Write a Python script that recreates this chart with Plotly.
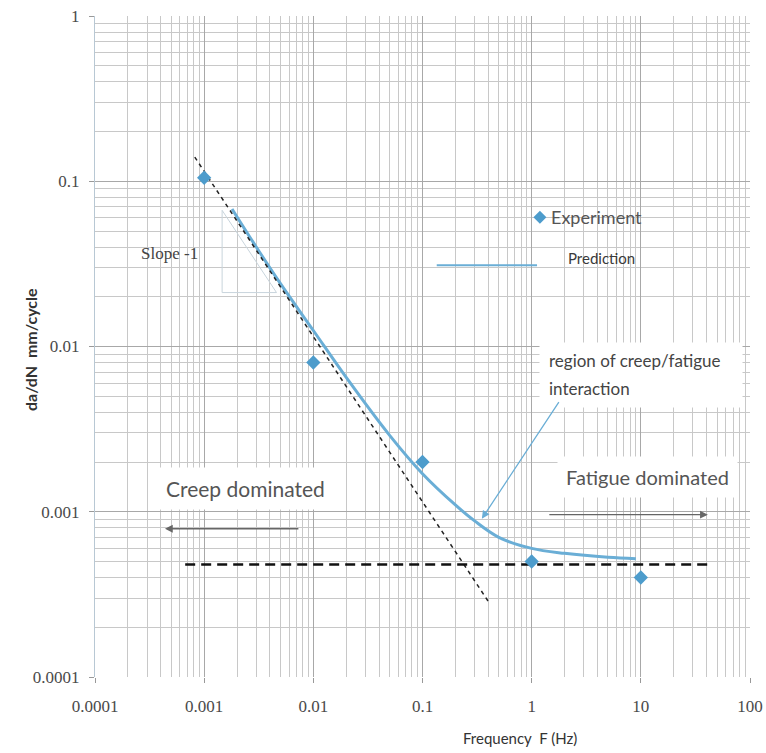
import plotly.graph_objects as go

# Data
exp_f = [0.001, 0.01, 0.1, 1, 10]
exp_dadn = [0.105, 0.008, 0.002, 0.0005, 0.0004]

pred_f = [0.0018, 0.003, 0.005, 0.01, 0.02, 0.05, 0.1, 0.2, 0.3, 0.5, 1, 2, 5, 9]
pred_dadn = [0.068, 0.040, 0.024, 0.0125, 0.0065, 0.0029, 0.0017, 0.0011, 0.00088,
             0.0007, 0.0006, 0.00056, 0.00053, 0.00052]

slope_f = [0.00082, 0.41]
slope_dadn = [0.14, 0.00028]

fatigue_f = [0.00067, 43]
fatigue_dadn = [0.00048, 0.00048]

tri_f = [0.00146, 0.00146, 0.0046]
tri_dadn = [0.0667, 0.0212, 0.0212]

x_tickvals = [0.0001, 0.001, 0.01, 0.1, 1, 10, 100]
x_ticktext = ["0.0001", "0.001", "0.01", "0.1", "1", "10", "100"]
y_tickvals = [0.0001, 0.001, 0.01, 0.1, 1]
y_ticktext = ["0.0001", "0.001", "0.01", "0.1", "1"]

BLUE = "#4d9ccc"
LBLUE = "#6aaed6"
GRID = "#c8c8c8"
TXT = "#555555"

fig = go.Figure()

fig.add_trace(go.Scatter(x=tri_f + [tri_f[0]], y=tri_dadn + [tri_dadn[0]], mode="lines",
                         line=dict(color="#c8d4dc", width=1), hoverinfo="skip"))
fig.add_trace(go.Scatter(x=pred_f, y=pred_dadn, mode="lines",
                         line=dict(color=LBLUE, width=3, shape="spline"), name="Prediction"))
fig.add_trace(go.Scatter(x=slope_f, y=slope_dadn, mode="lines",
                         line=dict(color="#222222", width=1.5, dash="4px,4px")))
fig.add_trace(go.Scatter(x=fatigue_f, y=fatigue_dadn, mode="lines",
                         line=dict(color="#111111", width=2.5, dash="10px,6px")))
fig.add_trace(go.Scatter(x=exp_f, y=exp_dadn, mode="markers",
                         marker=dict(symbol="diamond", size=11, color=BLUE), name="Experiment"))

axis_common = dict(
    type="log", showgrid=True, gridcolor="#a8a8a8", gridwidth=1,
    minor=dict(dtick="D1", showgrid=True, gridcolor=GRID, gridwidth=1),
    ticks="outside", ticklen=5, tickcolor="#999999",
    tickfont=dict(family="Liberation Serif", size=17, color="#4a4a4a"),
    zeroline=False, automargin=False, ticklabeloverflow="allow",
)

fig.update_xaxes(**axis_common, range=[-4, 2], tickvals=x_tickvals, ticktext=x_ticktext,
                 showline=False, ticklabelstandoff=9)
fig.update_yaxes(**axis_common, range=[-4, 0], tickvals=y_tickvals, ticktext=y_ticktext,
                 showline=True, linecolor="#b8c8d4", ticklabelstandoff=6)

# Axis titles
fig.add_annotation(x=-0.0992, y=0.4947, xref="paper", yref="paper", textangle=-90,
                   xanchor="center", yanchor="middle",
                   text="<b>da/dN  mm/cycle</b>", showarrow=False,
                   font=dict(family="Lato", size=16, color="#333333"))
fig.add_annotation(x=0.649, y=-0.0923, xref="paper", yref="paper",
                   xanchor="center", yanchor="middle",
                   text="Frequency  F (Hz)", showarrow=False,
                   font=dict(family="Lato", size=15, color="#333333"))

# Legend-like labels
fig.add_trace(go.Scatter(x=[1.19], y=[0.0605], mode="markers",
                         marker=dict(symbol="diamond", size=10, color=BLUE), hoverinfo="skip"))
fig.add_annotation(x=0.155, y=-1.218, xref="x", yref="y", text="Experiment", showarrow=False,
                   xanchor="left", font=dict(family="Lato", size=18, color=TXT))
fig.add_trace(go.Scatter(x=[0.135, 1.12], y=[0.031, 0.031], mode="lines",
                         line=dict(color=LBLUE, width=2), hoverinfo="skip"))
fig.add_annotation(x=0.31, y=-1.467, xref="x", yref="y", text="Prediction", showarrow=False,
                   xanchor="left", font=dict(family="Lato", size=15, color="#3a3a3a"))
fig.add_annotation(x=-3.038, y=-1.436, xref="x", yref="y", text="Slope -1", showarrow=False,
                   xanchor="right", font=dict(family="Liberation Serif", size=17, color="#444444"))

# Text boxes
fig.add_annotation(x=1.0, y=-2.17, xref="x", yref="y", text=" ", showarrow=False,
                   width=200, height=62, bgcolor="white")
fig.add_annotation(x=0.139, y=-2.085, xref="x", yref="y",
                   text="region of creep/fatigue", showarrow=False, xanchor="left",
                   font=dict(family="Lato", size=17, color="#444444"))
fig.add_annotation(x=0.139, y=-2.255, xref="x", yref="y",
                   text="interaction", showarrow=False, xanchor="left",
                   font=dict(family="Lato", size=17, color="#444444"))
fig.add_annotation(x=-2.626, y=-2.861, xref="x", yref="y", text="Creep dominated", showarrow=False,
                   bgcolor="white", borderpad=8, font=dict(family="Lato", size=21, color=TXT))
fig.add_annotation(x=1.064, y=-2.788, xref="x", yref="y", text="Fatigue dominated", showarrow=False,
                   bgcolor="white", borderpad=8, font=dict(family="Lato", size=20, color=TXT))

# Arrows
fig.add_annotation(x=-0.456, y=-3.042, ax=0.258, ay=-2.327, xref="x", yref="y", axref="x", ayref="y",
                   text="", showarrow=True, arrowhead=2, arrowsize=1.2, arrowwidth=1.3,
                   arrowcolor=LBLUE)
fig.add_annotation(x=-3.359, y=-3.103, ax=-2.123, ay=-3.103, xref="x", yref="y", axref="x", ayref="y",
                   text="", showarrow=True, arrowhead=2, arrowsize=1.2, arrowwidth=1.3,
                   arrowcolor="#666666")
fig.add_annotation(x=1.614, y=-3.018, ax=0.148, ay=-3.018, xref="x", yref="y", axref="x", ayref="y",
                   text="", showarrow=True, arrowhead=2, arrowsize=1.2, arrowwidth=1.3,
                   arrowcolor="#666666")

fig.update_layout(
    width=766, height=753,
    margin=dict(l=95, r=16, t=16, b=76),
    plot_bgcolor="white", paper_bgcolor="white",
    showlegend=False,
)

fig.write_html("out.html", config={"displayModeBar": False},
               post_script="document.body.style.margin='0px';")
